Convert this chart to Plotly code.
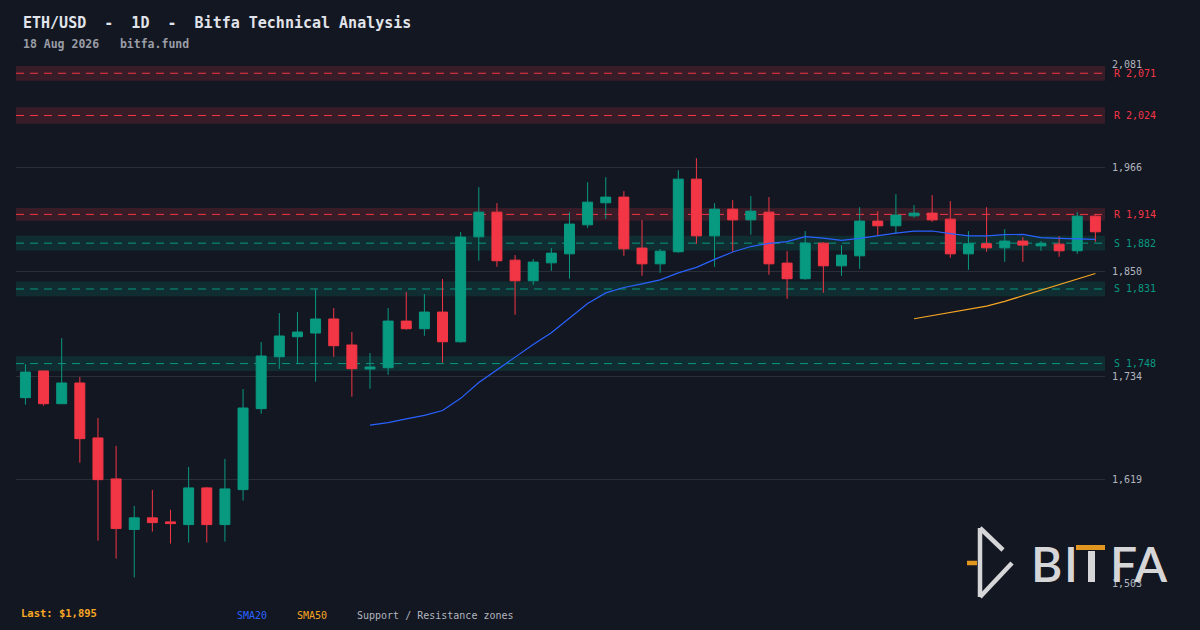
import plotly.graph_objects as go
import pandas as pd

# ---------------- data ----------------
opens = [1710.1, 1739.8, 1703.4, 1726.4, 1665.3, 1619.7, 1563.4, 1576.4, 1571.9, 1568.9,
         1609.7, 1568.9, 1607.8, 1697.9, 1755.6, 1777.9, 1782.0, 1797.6, 1768.7, 1742.0,
         1743.4, 1795.3, 1786.8, 1805.3, 1772.3, 1889.0, 1916.5, 1863.1, 1840.1, 1860.1,
         1870.1, 1902.4, 1926.9, 1933.2, 1876.5, 1859.0, 1872.4, 1953.2, 1890.1, 1919.8,
         1907.9, 1916.5, 1859.8, 1842.4, 1882.0, 1856.8, 1867.9, 1906.5, 1901.3, 1912.4,
         1915.4, 1908.7, 1870.1, 1881.3, 1876.8, 1884.3, 1879.0, 1880.9, 1873.5, 1912.0]
highs = [1747.5, 1740.0, 1776.4, 1733.1, 1687.5, 1656.4, 1589.7, 1607.5, 1585.3, 1633.1,
         1610.8, 1642.0, 1719.7, 1772.0, 1804.2, 1805.3, 1830.6, 1809.8, 1783.1, 1759.8,
         1809.8, 1827.6, 1825.3, 1842.0, 1894.3, 1944.3, 1926.5, 1868.7, 1864.3, 1876.5,
         1916.5, 1949.8, 1955.4, 1939.8, 1907.6, 1875.4, 1963.2, 1976.5, 1926.5, 1929.8,
         1934.3, 1933.2, 1873.1, 1895.4, 1883.1, 1879.8, 1922.0, 1917.6, 1936.5, 1924.3,
         1935.4, 1928.7, 1895.4, 1922.0, 1897.6, 1888.7, 1884.3, 1889.8, 1916.5, 1913.0]
lows = [1702.3, 1701.2, 1703.4, 1637.8, 1551.1, 1531.1, 1510.0, 1561.1, 1547.8, 1548.9,
        1548.9, 1550.0, 1595.6, 1692.3, 1742.3, 1747.5, 1727.9, 1755.6, 1711.2, 1720.1,
        1735.6, 1785.7, 1779.0, 1749.0, 1771.2, 1862.4, 1855.7, 1802.3, 1835.7, 1851.2,
        1842.4, 1899.0, 1909.0, 1867.9, 1845.7, 1849.0, 1871.3, 1881.3, 1855.7, 1872.4,
        1891.3, 1846.8, 1820.1, 1841.3, 1826.8, 1845.7, 1853.5, 1890.1, 1892.4, 1910.2,
        1905.7, 1865.7, 1852.4, 1872.4, 1861.2, 1861.2, 1873.5, 1866.8, 1870.1, 1883.5]
closes = [1738.6, 1703.4, 1726.4, 1664.5, 1618.9, 1564.5, 1576.4, 1571.1, 1570.0, 1609.7,
          1568.9, 1608.6, 1698.6, 1756.4, 1778.7, 1783.1, 1797.6, 1767.9, 1742.3, 1744.2,
          1795.3, 1786.8, 1805.3, 1772.3, 1888.7, 1916.5, 1862.4, 1840.1, 1860.9, 1870.9,
          1903.2, 1927.6, 1933.2, 1875.7, 1859.0, 1873.1, 1953.2, 1890.1, 1919.8, 1907.9,
          1917.6, 1859.0, 1842.4, 1882.0, 1856.8, 1868.7, 1906.5, 1901.3, 1913.2, 1915.4,
          1907.9, 1870.1, 1881.3, 1876.8, 1884.3, 1879.8, 1881.3, 1873.5, 1912.0, 1894.6]

zone_levels = [2071, 2024, 1914, 1882, 1831, 1748]
zone_kinds = ["R", "R", "R", "S", "S", "S"]
zone_half = [8.2, 9.3, 7.1, 8.2, 8.2, 8.2]

tick_vals = [1503, 1619, 1734, 1850, 1966, 2081]
tick_text = ["1,503", "1,619", "1,734", "1,850", "1,966", "2,081"]

title_text = "ETH/USD  -  1D  -  Bitfa Technical Analysis"
subtitle_text = "18 Aug 2026   bitfa.fund"
last_text = "Last: $1,895"
legend_items = ["SMA20", "SMA50", "Support / Resistance zones"]

# ---------------- style ----------------
BG = "#131722"
UP = "#089981"
DOWN = "#f23645"
SMA20_C = "#2962ff"
SMA50_C = "#f5a623"
MONO = "DejaVu Sans Mono"

x = list(range(len(closes)))
sma20 = pd.Series(closes).rolling(20).mean()
sma50 = pd.Series(closes).rolling(50).mean()

W = 1200 - 16 - 95
H = 630 - 64 - 46
def px(xp):
    return (xp - 16) / W
def py(yp):
    return (630 - 46 - yp) / H

fig = go.Figure()

# zones
for lvl, kind, h in zip(zone_levels, zone_kinds, zone_half):
    col = DOWN if kind == "R" else UP
    fill = "rgba(242,54,69,0.17)" if kind == "R" else "rgba(8,153,129,0.17)"
    fig.add_shape(type="rect", xref="paper", x0=0, x1=1, yref="y", y0=lvl - h, y1=lvl + h,
                  fillcolor=fill, line_width=0, layer="below")
    fig.add_shape(type="line", xref="paper", x0=0, x1=1, yref="y", y0=lvl, y1=lvl,
                  line=dict(color=col, width=1, dash="8px,6px"), layer="below")
    fig.add_annotation(xref="paper", x=1, xshift=7, xanchor="left", yref="y", y=lvl,
                       yanchor="middle", text=f"{kind} {lvl:,}", showarrow=False,
                       font=dict(family=MONO, size=10, color=col))

fig.add_trace(go.Candlestick(
    x=x, open=opens, high=highs, low=lows, close=closes,
    increasing=dict(line=dict(color=UP, width=1), fillcolor=UP),
    decreasing=dict(line=dict(color=DOWN, width=1), fillcolor=DOWN),
    whiskerwidth=0, hoverinfo="skip", showlegend=False))

fig.add_trace(go.Scatter(x=x, y=sma20, mode="lines", line=dict(color=SMA20_C, width=1.2),
                         hoverinfo="skip", showlegend=False))
fig.add_trace(go.Scatter(x=x, y=sma50, mode="lines", line=dict(color=SMA50_C, width=1.2),
                         hoverinfo="skip", showlegend=False))

# titles
fig.add_annotation(xref="paper", yref="paper", x=px(21), y=py(23), xanchor="left",
                   yanchor="middle", showarrow=False, text=f"<b>{title_text}</b>",
                   font=dict(family=MONO, size=15, color="#e1e4ea"))
fig.add_annotation(xref="paper", yref="paper", x=px(21), y=py(44), yanchor="middle",
                   xanchor="left", showarrow=False, text=f"<b>{subtitle_text}</b>",
                   font=dict(family=MONO, size=11.5, color="#9a9da6"))

# bottom legend
fig.add_annotation(xref="paper", yref="paper", x=px(19), xanchor="left", y=py(613),
                   yanchor="middle", showarrow=False, text=f"<b>{last_text}</b>",
                   font=dict(family=MONO, size=10.5, color="#f7a825"))
for txt, col, xpix in zip(legend_items, [SMA20_C, SMA50_C, "#b2b5be"], [235, 295, 355]):
    fig.add_annotation(xref="paper", yref="paper", x=px(xpix), xanchor="left", y=py(615),
                       yanchor="middle", showarrow=False, text=txt,
                       font=dict(family=MONO, size=10, color=col))

fig.update_layout(
    width=1200, height=630,
    paper_bgcolor=BG, plot_bgcolor=BG,
    margin=dict(l=16, r=95, t=64, b=46),
    boxgap=0.45, boxgroupgap=0,
    showlegend=False,
    xaxis=dict(range=[-0.52, 59.53], visible=False, rangeslider=dict(visible=False),
               fixedrange=True),
    yaxis=dict(range=[1502.8, 2081.3], side="right", tickvals=tick_vals, ticktext=tick_text,
               showgrid=True, gridcolor="#2a2e39", gridwidth=1, zeroline=False,
               showline=False, ticks="", ticklabelstandoff=6, fixedrange=True,
               tickfont=dict(family=MONO, size=10, color="#b2b5be")),
)

# logo
LOGO = "#d6d6d8"
ORANGE = "#e0961f"
def seg(x0, y0, x1, y1, col=LOGO, w=4.5):
    fig.add_shape(type="line", xref="paper", yref="paper", x0=px(x0), y0=py(y0),
                  x1=px(x1), y1=py(y1), line=dict(color=col, width=w), layer="above")
seg(980, 528, 980, 597)
seg(980, 528, 1003, 550)
seg(1012, 563, 980, 597)
seg(967, 563, 977, 563, ORANGE)
fig.add_shape(type="rect", xref="paper", yref="paper", x0=px(1076), x1=px(1105),
              y0=py(550), y1=py(545), fillcolor=ORANGE, line_width=0, layer="above")
fig.add_shape(type="rect", xref="paper", yref="paper", x0=px(1088), x1=px(1095),
              y0=py(582), y1=py(551), fillcolor=LOGO, line_width=0, layer="above")
for ch, xp in [("B", 1029), ("I", 1062), ("FA", 1108)]:
    fig.add_annotation(xref="paper", yref="paper", x=px(xp), y=py(563), xanchor="left",
                       yanchor="middle", showarrow=False, text=ch,
                       font=dict(family="Lato", size=48, color=LOGO, weight=600))

fig.write_html("out.html", config={"displayModeBar": False},
               post_script="document.body.style.margin='0';document.body.style.background='#131722';")
